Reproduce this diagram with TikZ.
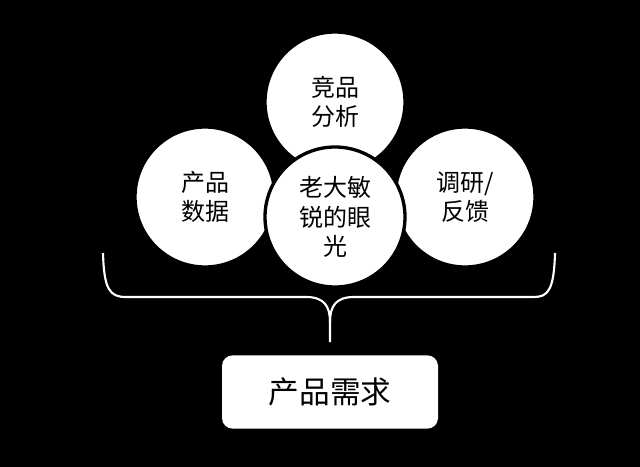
\documentclass[tikz,border=0pt]{standalone}
\usepackage{fontspec}
\newfontfamily\cjk{Noto Sans CJK SC}
\tikzset{
  bubble/.style={circle, fill=white, draw=black, line width=2.5pt, minimum size=105pt,
    align=center, text=black, font=\cjk\fontsize{18pt}{22pt}\selectfont},
  brace/.style={draw=white, line width=1.6pt},
  needbox/.style={rectangle, rounded corners=8pt, fill=white, minimum width=162pt,
    minimum height=55pt, font=\cjk\fontsize{23pt}{27pt}\selectfont}
}
\begin{document}
\begin{tikzpicture}[x=0.75pt,y=-0.75pt]
    \fill[black] (0,0) rectangle (640,467);
    \useasboundingbox (0,0) rectangle (640,467);
      \node [bubble] (comp) at (335,102) {竞品\\分析};
      \node [bubble] (data) at (205,197) {产品\\数据};
      \node [bubble] (res) at (465,197) {调研/\\反馈};
      \node [bubble] (boss) at (335,217) {老大敏\\锐的眼\\光};
      \coordinate (bl) at (103,253);
      \coordinate (br) at (555,253);
      \coordinate (bt) at (330,342);
      \node [needbox] (need) at (330,392) {产品需求};
    %   brace under the circles
      \draw [brace] (bl) .. controls (104,290) and (110,297) .. (126,297) -- (306,297)
        .. controls (324,297) and (330,306) .. (330,322) -- (bt);
      \draw [brace] (br) .. controls (554,290) and (548,297) .. (534,297) -- (354,297)
        .. controls (336,297) and (330,306) .. (330,322);
    \end{tikzpicture}
\end{document}
